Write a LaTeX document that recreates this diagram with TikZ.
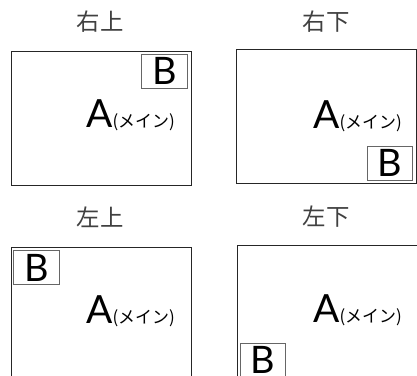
\documentclass[tikz,border=0pt]{standalone}
\usepackage{fontspec}
\newfontfamily\jpfont{Noto Sans CJK JP}
\newfontfamily\latfont{Lato}
\usetikzlibrary{positioning}

\newcommand\mainname{{\latfont\fontsize{39}{39}\selectfont A}{\jpfont\fontsize{17}{18}\selectfont(メイン)}}

\begin{document}
\begin{tikzpicture}[
    x=1bp, y=-1bp,
    every node/.style={inner sep=0pt},
    title/.style={font=\jpfont\fontsize{23.5}{24}\selectfont, text=black!75},
    screen/.style={draw=black!85, line width=0.9bp, minimum width=180bp, minimum height=134bp},
    subwin/.style={draw=black!60, line width=1bp, minimum width=45bp, minimum height=34bp,
                   font=\latfont\fontsize{38}{38}\selectfont},
    mainwin/.style={anchor=base west},
]
\clip (0,0) rectangle (417,376);
\useasboundingbox (0,0) rectangle (417,376);

% top row
\node[title] (t1) at (100,22) {右上};
\node[screen] (s1) at (101,118) {};
\node[subwin] (b1) at (164.5,71) {B};
\node[mainwin] (a1) at (86,127) {\mainname};

\node[title] (t2) at (326,22) {右下};
\node[screen] (s2) at (326,116) {};
\node[subwin] (b2) at (389.5,163) {B};
\node[mainwin] (a2) at (313,128) {\mainname};

% bottom row
\node[title] (t3) at (100,217) {左上};
\node[screen] (s3) at (101,314) {};
\node[subwin] (b3) at (36.5,267.5) {B};
\node[mainwin] (a3) at (86,323) {\mainname};

\node[title] (t4) at (326,217) {左下};
\node[screen] (s4) at (327,312) {};
\node[subwin] (b4) at (262.5,360) {B};
\node[mainwin] (a4) at (313,322) {\mainname};
\end{tikzpicture}
\end{document}
